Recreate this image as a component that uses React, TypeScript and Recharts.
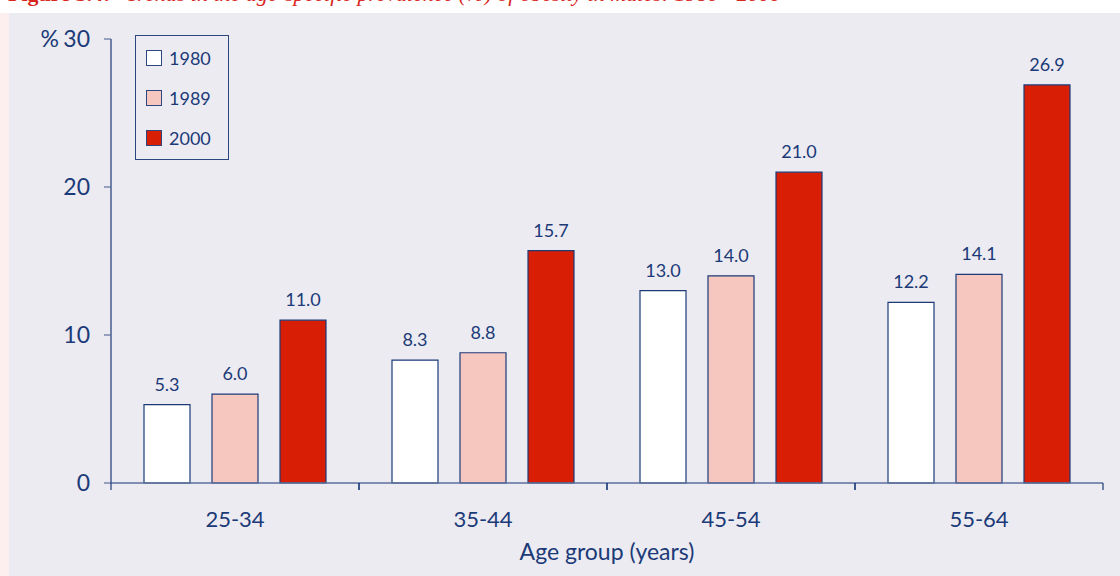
import { Bar, BarChart, LabelList, Label, Legend, XAxis, YAxis } from "recharts";

const ageGroups = ["25-34", "35-44", "45-54", "55-64"];
const years = ["1980", "1989", "2000"];
const values1980 = [5.3, 8.3, 13.0, 12.2];
const values1989 = [6.0, 8.8, 14.0, 14.1];
const values2000 = [11.0, 15.7, 21.0, 26.9];
const yTicks = [0, 10, 20, 30];

const fills: Record<string, string> = { "1980": "#ffffff", "1989": "#f5c7be", "2000": "#d81f05" };
const NAVY = "#1c3a78";
const FONT = "Lato, 'Open Sans', sans-serif";

const data = ageGroups.map((g, i) => ({
  group: g,
  "1980": values1980[i],
  "1989": values1989[i],
  "2000": values2000[i],
}));

function GroupTick(props: any) {
  const { x, y, payload } = props;
  const half = payload?.offset ?? 124;
  return (
    <g>
      <line x1={x - half} x2={x - half} y1={y - 7} y2={y} stroke={NAVY} strokeWidth={1.2} />
      <line x1={x + half} x2={x + half} y1={y - 7} y2={y} stroke={NAVY} strokeWidth={1.2} />
      <text x={x} y={y} dy={37} textAnchor="middle" fill={NAVY} fontSize={22} fontFamily={FONT}>
        {payload.value}
      </text>
    </g>
  );
}

function ValueTick(props: any) {
  const { x, y, payload } = props;
  return (
    <g>
      <text x={x} y={y} dy={8} textAnchor="end" fill={NAVY} fontSize={23} fontFamily={FONT}>
        {payload.value}
      </text>
      {payload.value === 30 ? (
        <text x={x - 31} y={y} dy={8} textAnchor="end" fill={NAVY} fontSize={23} fontFamily={FONT}>
          %
        </text>
      ) : null}
    </g>
  );
}

function YearLegend() {
  return (
    <div
      style={{
        position: "relative",
        width: 94,
        height: 125,
        boxSizing: "border-box",
        border: "1.5px solid #2c4680",
        fontFamily: FONT,
        color: NAVY,
        fontSize: 18,
      }}
    >
      {years.map((yr, i) => (
        <div key={yr} style={{ position: "absolute", left: 10, top: 11 + i * 40, display: "flex", alignItems: "center" }}>
          <span
            style={{
              display: "inline-block",
              width: 14,
              height: 14,
              background: fills[yr],
              border: "1.2px solid #2c4680",
              marginRight: 7,
            }}
          />
          <span>{yr}</span>
        </div>
      ))}
    </div>
  );
}

export default function App() {
  return (
    <div style={{ position: "fixed", left: 0, top: 0, width: 1120, height: 576, background: "#ffffff", overflow: "hidden" }}>
      <div
        style={{
          position: "absolute",
          left: 8,
          top: -19,
          whiteSpace: "nowrap",
          fontFamily: "'Liberation Serif', serif",
          fontSize: 22,
          color: "#d8261c",
        }}
      >
        <b>Figure 5.4:</b>
        <i style={{ marginLeft: 16 }}>Trends in the age-specific prevalence (%) of obesity in males: 1980 - 2000</i>
      </div>
      <div style={{ position: "absolute", left: 0, top: 13, width: 9, bottom: 0, background: "#fcefee" }} />
      <div style={{ position: "absolute", left: 9, top: 13, right: 0, bottom: 0, background: "#ebebf1" }} />
      <div style={{ position: "absolute", left: 0, top: 0 }}>
        <BarChart
          width={1120}
          height={576}
          data={data}
          margin={{ top: 39, right: 17, left: 31, bottom: 33 }}
          barSize={46}
          barGap={22}
        >
          <XAxis
            dataKey="group"
            height={60}
            axisLine={{ stroke: "#5b6f9c", strokeWidth: 1.5 }}
            tickLine={false}
            tickSize={7}
            tickMargin={0}
            tick={<GroupTick />}
            interval={0}
          >
            <Label
              value="Age group (years)"
              position="bottom"
              offset={1}
              fill={NAVY}
              fontSize={23}
              fontFamily={FONT}
            />
          </XAxis>
          <YAxis
            width={80}
            domain={[0, 30]}
            ticks={yTicks}
            interval={0}
            axisLine={{ stroke: NAVY, strokeWidth: 1.2 }}
            tickLine={{ stroke: "#5b6f9c", strokeWidth: 1.2 }}
            tickSize={7}
            tickMargin={14}
            tick={<ValueTick />}
          />
          <Legend
            layout="vertical"
            align="center"
            verticalAlign="middle"
            content={<YearLegend />}
            wrapperStyle={{ left: 135, top: 35, width: 94, height: 125 }}
          />
          {years.map((yr) => (
            <Bar key={yr} dataKey={yr} fill={fills[yr]} stroke={NAVY} strokeWidth={1.2} isAnimationActive={false}>
              <LabelList
                dataKey={yr}
                position="top"
                offset={14}
                formatter={(v: any) => Number(v).toFixed(1)}
                fill={NAVY}
                fontSize={18}
                fontFamily={FONT}
              />
            </Bar>
          ))}
        </BarChart>
      </div>
    </div>
  );
}
